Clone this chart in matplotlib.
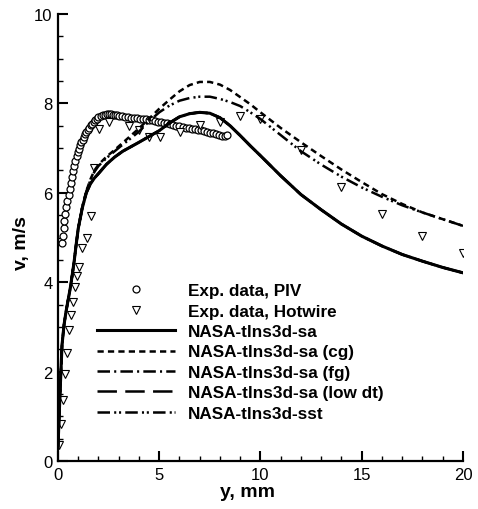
import matplotlib
matplotlib.use("Agg")
import matplotlib.pyplot as plt
from matplotlib.ticker import MultipleLocator

plt.rcParams['font.family'] = ['Liberation Sans', 'DejaVu Sans']
plt.rcParams['lines.scale_dashes'] = False

# Exp. data, PIV
piv_y = [0.21, 0.24, 0.28, 0.32, 0.37, 0.42, 0.47, 0.52, 0.57, 0.63, 0.68, 0.74,
         0.80, 0.86, 0.92, 0.98, 1.04, 1.10, 1.16, 1.22, 1.28, 1.34, 1.40, 1.47,
         1.54, 1.61, 1.68, 1.76, 1.84, 1.92, 2.00, 2.10, 2.20, 2.30, 2.40, 2.50,
         2.60, 2.70, 2.80, 2.90, 3.00, 3.15, 3.30, 3.45, 3.60, 3.75, 3.90, 4.05,
         4.20, 4.35, 4.50, 4.65, 4.80, 4.95, 5.10, 5.25, 5.40, 5.55, 5.70, 5.85,
         6.00, 6.15, 6.30, 6.45, 6.60, 6.75, 6.90, 7.05, 7.20, 7.35, 7.50, 7.65,
         7.80, 7.95, 8.10, 8.25, 8.35]
piv_v = [4.88, 5.04, 5.22, 5.38, 5.53, 5.68, 5.82, 5.96, 6.09, 6.23, 6.36, 6.48,
         6.60, 6.71, 6.82, 6.91, 6.99, 7.06, 7.13, 7.19, 7.25, 7.31, 7.36, 7.41,
         7.46, 7.51, 7.55, 7.59, 7.63, 7.66, 7.69, 7.72, 7.74, 7.75, 7.76, 7.76,
         7.76, 7.75, 7.74, 7.73, 7.72, 7.71, 7.70, 7.69, 7.68, 7.67, 7.67, 7.66,
         7.65, 7.64, 7.63, 7.62, 7.60, 7.59, 7.58, 7.57, 7.56, 7.54, 7.52, 7.50,
         7.49, 7.47, 7.46, 7.44, 7.43, 7.42, 7.41, 7.40, 7.38, 7.36, 7.34, 7.33,
         7.31, 7.29, 7.28, 7.28, 7.29]

# Exp. data, Hotwire
hw_y = [0.06, 0.16, 0.26, 0.33, 0.43, 0.53, 0.63, 0.72, 0.82, 0.92, 1.05, 1.17,
        1.42, 1.64, 1.78, 2.04, 2.50, 3.52, 4.01, 4.51, 5.04, 6.02, 7.01, 8.00,
        9.00, 10.0, 12.0, 14.0, 16.0, 18.0, 20.0]
hw_v = [0.36, 0.83, 1.36, 1.95, 2.42, 2.94, 3.27, 3.56, 3.89, 4.14, 4.34, 4.77,
        4.99, 5.49, 6.55, 7.43, 7.58, 7.49, 7.40, 7.24, 7.24, 7.37, 7.52, 7.59,
        7.72, 7.65, 6.95, 6.12, 5.52, 5.03, 4.65]

# CFD profiles
cfd_y = [0, 0.1, 0.2, 0.3, 0.4, 0.5, 0.6, 0.7, 0.8, 0.9, 1.0, 1.2, 1.4, 1.6, 1.8,
         2.0, 2.4, 2.8, 3.2, 3.6, 4.0, 4.5, 5.0, 5.5, 6.0, 6.5, 7.0, 7.5, 8.0,
         8.5, 9.0, 9.5, 10, 11, 12, 13, 14, 15, 16, 17, 18, 19, 20]
sa_v = [0.3, 1.5, 2.6, 3.05, 3.35, 3.6, 3.85, 4.15, 4.47, 4.85, 5.2, 5.66, 6.0,
        6.2, 6.33, 6.43, 6.64, 6.8, 6.93, 7.03, 7.13, 7.26, 7.39, 7.56, 7.70,
        7.77, 7.80, 7.78, 7.68, 7.50, 7.28, 7.05, 6.83, 6.38, 5.96, 5.62, 5.30,
        5.03, 4.81, 4.62, 4.47, 4.33, 4.21]
sa_cg_v = [0.3, 1.5, 2.6, 3.05, 3.35, 3.6, 3.85, 4.15, 4.47, 4.85, 5.2, 5.68,
           6.04, 6.3, 6.5, 6.63, 6.81, 6.96, 7.12, 7.28, 7.44, 7.66, 7.88, 8.08,
           8.27, 8.41, 8.48, 8.48, 8.42, 8.30, 8.14, 7.98, 7.80, 7.45, 7.13,
           6.82, 6.52, 6.24, 5.97, 5.75, 5.56, 5.41, 5.26]
sa_fg_v = sa_v
sa_lowdt_v = sa_v
sst_v = [0.3, 1.5, 2.6, 3.05, 3.35, 3.6, 3.85, 4.15, 4.47, 4.85, 5.2, 5.68,
         6.03, 6.28, 6.47, 6.6, 6.78, 6.93, 7.08, 7.22, 7.37, 7.60, 7.80, 7.95,
         8.06, 8.12, 8.15, 8.15, 8.10, 8.03, 7.94, 7.80, 7.65, 7.29, 6.93,
         6.63, 6.36, 6.12, 5.91, 5.72, 5.56, 5.41, 5.26]

fig = plt.figure(figsize=(4.78, 5.10), dpi=100)
ax = fig.add_axes([0.1213, 0.0941, 0.8473, 0.8765])

ax.plot(piv_y, piv_v, linestyle='none', marker='o', ms=5, mfc='white',
        mec='black', mew=0.9, label='Exp. data, PIV')
ax.plot(hw_y, hw_v, linestyle='none', marker='v', ms=5.5, mfc='white',
        mec='black', mew=0.8, label='Exp. data, Hotwire')
ax.plot(cfd_y, sa_v, color='black', lw=2.2, label='NASA-tlns3d-sa')
ax.plot(cfd_y, sa_cg_v, color='black', lw=1.8, dashes=(4.5, 3),
        label='NASA-tlns3d-sa (cg)')
ax.plot(cfd_y, sa_fg_v, color='black', lw=1.8, dashes=(9, 3, 1.5, 3),
        label='NASA-tlns3d-sa (fg)')
ax.plot(cfd_y, sa_lowdt_v, color='black', lw=1.8, dashes=(14, 6),
        label='NASA-tlns3d-sa (low dt)')
ax.plot(cfd_y, sst_v, color='black', lw=1.8, dashes=(9, 3, 1.5, 2, 1.5, 3),
        label='NASA-tlns3d-sst')

ax.set_xlim(0, 20)
ax.set_ylim(0, 10)
ax.xaxis.set_major_locator(MultipleLocator(5))
ax.xaxis.set_minor_locator(MultipleLocator(1))
ax.yaxis.set_major_locator(MultipleLocator(2))
ax.yaxis.set_minor_locator(MultipleLocator(0.5))
ax.tick_params(which='major', direction='in', length=7, width=1.5,
               labelsize=12, pad=4)
ax.tick_params(which='minor', direction='in', length=3.5, width=1.0)
ax.spines['right'].set_visible(False)
ax.spines['top'].set_visible(False)
ax.spines['left'].set_linewidth(1.6)
ax.spines['bottom'].set_linewidth(1.6)

ax.set_xlabel('y, mm', fontsize=14, fontweight='bold')
ax.set_ylabel('v, m/s', fontsize=14, fontweight='bold')
ax.xaxis.set_label_coords(0.467, -0.05)
ax.yaxis.set_label_coords(-0.07, 0.49)

ax.legend(loc='upper left', bbox_to_anchor=(0.096, 0.398), frameon=False,
          numpoints=1, handlelength=4.56, handletextpad=0.78, labelspacing=0.32,
          prop={'weight': 'bold', 'size': 12.3}, borderaxespad=0, borderpad=0)

fig.savefig('out.png', dpi=100)
